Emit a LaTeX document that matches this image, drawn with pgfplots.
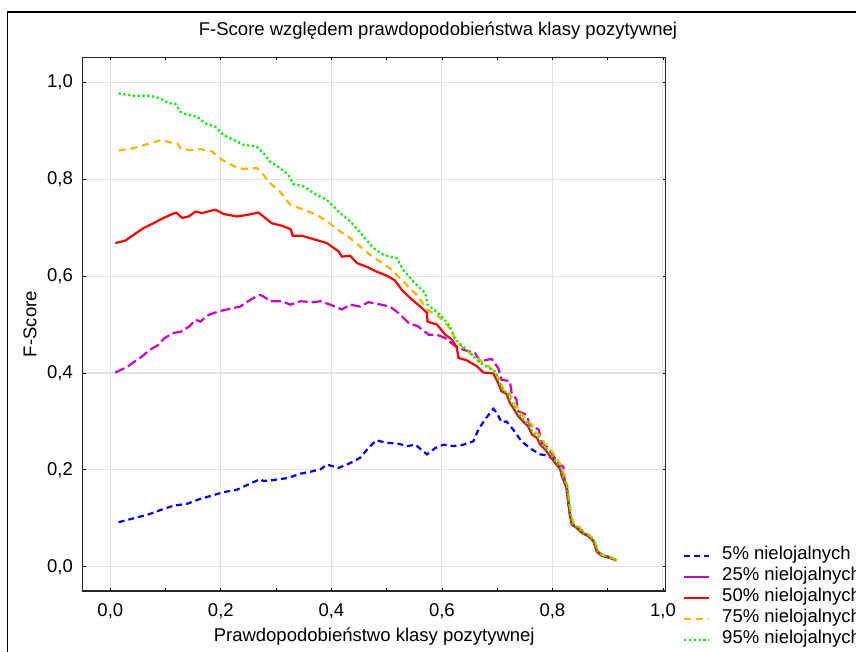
\documentclass[border=0pt]{standalone}
\usepackage{fontspec}
\setmainfont{Liberation Sans}
\usepackage{pgfplots}
\pgfplotsset{compat=1.18}
\definecolor{cBlue}{RGB}{0,0,255}
\definecolor{cMag}{RGB}{204,0,204}
\definecolor{cRed}{RGB}{255,0,0}
\definecolor{cOra}{RGB}{255,180,0}
\definecolor{cGre}{RGB}{0,240,0}
\definecolor{cGrid}{RGB}{226,226,226}
\newcommand{\fs}{\fontsize{18.5}{22}\selectfont}
\begin{document}
\begin{tikzpicture}
\begin{axis}[
  at={(82.7pt,61pt)}, anchor=south west,
  scale only axis, width=583pt, height=533.7pt,
  xmin=-0.05, xmax=1.005, ymin=-0.05, ymax=1.0515,
  xtick={0,0.2,0.4,0.6,0.8,1.0},
  ytick={0,0.2,0.4,0.6,0.8,1.0},
  minor xtick={0.1,0.3,0.5,0.7,0.9},
  tick align=inside, major tick length=3pt, minor tick length=3pt,
  every tick/.style={black, line width=0.8pt},
  grid=major,
  major grid style={cGrid, line width=1.1pt},
  axis line style={black!85, line width=1.2pt},
  /pgf/number format/.cd, use comma, fixed, fixed zerofill, precision=1, assume math mode=true,
  /pgfplots/.cd,
  every tick label/.append style={font=\fs, inner sep=0pt},
  xticklabel shift=12pt,
  yticklabel shift=9.7pt,
  title={F-Score względem prawdopodobieństwa klasy pozytywnej},
  title style={font=\fs, at={(axis description cs:0.6094,1.038)}, anchor=center, inner sep=0pt},
  xlabel={Prawdopodobieństwo klasy pozytywnej},
  xlabel style={font=\fs, at={(axis description cs:0.5,-0.0862)}, anchor=center, inner sep=0pt},
  ylabel={F-Score},
  ylabel style={font=\fs, at={(axis description cs:-0.0904,0.5)}, anchor=center, rotate=0, inner sep=0pt},
  legend cell align=left,
  legend style={font=\fs, draw=none, fill=none, inner sep=0pt, outer sep=0pt,
    at={(axis description cs:1.0297,0.0847)}, anchor=north west,
    row sep=0pt, nodes={inner sep=0pt, text height=14pt, text depth=7pt},
    /tikz/every odd column/.append style={column sep=12pt}},
  legend image code/.code={\draw[#1] (0pt,0pt) -- (25pt,0pt);},
]
\addplot[cBlue, line width=2.2pt, dash pattern=on 6pt off 4pt] coordinates {
(0.015,0.092) (0.042,0.100) (0.069,0.108) (0.093,0.118) (0.114,0.126) (0.139,0.130)
(0.160,0.139) (0.184,0.147) (0.205,0.154) (0.229,0.159) (0.250,0.170) (0.271,0.181)
(0.277,0.177) (0.295,0.179) (0.320,0.183) (0.344,0.192) (0.365,0.197) (0.380,0.201)
(0.392,0.211) (0.413,0.204) (0.434,0.214) (0.452,0.225) (0.467,0.245) (0.481,0.261)
(0.500,0.256) (0.521,0.254) (0.537,0.249) (0.552,0.252) (0.573,0.232) (0.588,0.245)
(0.603,0.252) (0.621,0.249) (0.639,0.252) (0.657,0.259) (0.666,0.283) (0.678,0.304)
(0.693,0.326) (0.699,0.318) (0.708,0.298) (0.717,0.300) (0.729,0.283) (0.744,0.259)
(0.763,0.242) (0.778,0.232) (0.793,0.229) (0.802,0.221) (0.814,0.204) (0.818,0.184)
(0.825,0.166) (0.828,0.139) (0.832,0.104) (0.835,0.090) (0.844,0.082) (0.853,0.072)
(0.865,0.064) (0.874,0.054) (0.880,0.034) (0.889,0.024) (0.904,0.020) (0.916,0.013)
};
\addlegendentry{5\% nielojalnych}
\addplot[cMag, line width=2.2pt, dash pattern=on 10pt off 4pt,
  legend image code/.code={\draw[cMag, line width=2.2pt, solid] (0pt,0pt) -- (25pt,0pt);}] coordinates {
(0.009,0.401) (0.030,0.412) (0.042,0.422) (0.054,0.431) (0.072,0.448) (0.087,0.458)
(0.096,0.470) (0.112,0.482) (0.127,0.485) (0.143,0.496) (0.154,0.510) (0.163,0.506)
(0.178,0.520) (0.196,0.527) (0.211,0.531) (0.235,0.537) (0.256,0.553) (0.271,0.561)
(0.277,0.558) (0.289,0.548) (0.310,0.548) (0.326,0.541) (0.344,0.548) (0.368,0.546)
(0.380,0.548) (0.398,0.541) (0.419,0.531) (0.434,0.541) (0.452,0.537) (0.467,0.546)
(0.482,0.543) (0.506,0.537) (0.521,0.524) (0.540,0.503) (0.557,0.496) (0.576,0.479)
(0.591,0.479) (0.606,0.472) (0.621,0.458) (0.639,0.448) (0.660,0.441) (0.669,0.424)
(0.690,0.429) (0.702,0.410) (0.708,0.386) (0.723,0.383) (0.726,0.360) (0.735,0.345)
(0.738,0.321) (0.753,0.314) (0.759,0.293) (0.775,0.283) (0.781,0.256) (0.793,0.245)
(0.802,0.228) (0.811,0.214) (0.820,0.206) (0.822,0.180) (0.827,0.160) (0.829,0.135)
(0.833,0.100) (0.837,0.088) (0.846,0.080) (0.855,0.071) (0.866,0.063) (0.875,0.052)
(0.881,0.031) (0.890,0.022) (0.905,0.018) (0.916,0.012)
};
\addlegendentry{25\% nielojalnych}
\addplot[cRed, line width=2.2pt] coordinates {
(0.009,0.668) (0.027,0.673) (0.042,0.685) (0.060,0.699) (0.078,0.709) (0.093,0.718)
(0.108,0.726) (0.119,0.731) (0.130,0.720) (0.142,0.723) (0.154,0.733) (0.166,0.730)
(0.190,0.737) (0.205,0.728) (0.229,0.723) (0.247,0.726) (0.268,0.731) (0.277,0.723)
(0.292,0.709) (0.310,0.704) (0.326,0.697) (0.330,0.683) (0.347,0.683) (0.368,0.676)
(0.392,0.668) (0.413,0.651) (0.419,0.640) (0.434,0.642) (0.446,0.627) (0.464,0.619)
(0.482,0.609) (0.500,0.601) (0.515,0.591) (0.527,0.572) (0.546,0.551) (0.561,0.537)
(0.573,0.524) (0.574,0.506) (0.591,0.500) (0.606,0.479) (0.618,0.469) (0.627,0.452)
(0.630,0.431) (0.645,0.426) (0.663,0.414) (0.675,0.401) (0.693,0.399) (0.702,0.379)
(0.708,0.362) (0.717,0.357) (0.723,0.338) (0.729,0.328) (0.738,0.311) (0.747,0.300)
(0.756,0.290) (0.763,0.273) (0.772,0.266) (0.778,0.252) (0.787,0.242) (0.796,0.228)
(0.805,0.214) (0.814,0.201) (0.818,0.184) (0.825,0.166) (0.828,0.139) (0.832,0.104)
(0.835,0.087) (0.844,0.080) (0.853,0.070) (0.865,0.063) (0.874,0.053) (0.880,0.032)
(0.889,0.023) (0.904,0.019) (0.916,0.013)
};
\addlegendentry{50\% nielojalnych}
\addplot[cOra, line width=2.2pt, dash pattern=on 7pt off 5pt] coordinates {
(0.015,0.859) (0.042,0.864) (0.072,0.874) (0.093,0.881) (0.108,0.876) (0.121,0.874)
(0.127,0.864) (0.142,0.860) (0.163,0.862) (0.184,0.857) (0.202,0.840) (0.223,0.827)
(0.241,0.821) (0.265,0.823) (0.277,0.809) (0.289,0.792) (0.307,0.774) (0.326,0.747)
(0.350,0.737) (0.374,0.726) (0.392,0.713) (0.416,0.692) (0.434,0.678) (0.452,0.661)
(0.470,0.644) (0.488,0.630) (0.506,0.616) (0.524,0.596) (0.542,0.575) (0.557,0.558)
(0.573,0.531) (0.594,0.517) (0.612,0.496) (0.627,0.465) (0.642,0.448) (0.663,0.431)
(0.681,0.417) (0.696,0.403) (0.705,0.383) (0.712,0.365) (0.722,0.360) (0.728,0.342)
(0.735,0.331) (0.744,0.315) (0.753,0.304) (0.763,0.293) (0.770,0.277) (0.779,0.270)
(0.785,0.256) (0.794,0.246) (0.803,0.232) (0.811,0.218) (0.818,0.205) (0.821,0.186)
(0.827,0.168) (0.830,0.140) (0.834,0.106) (0.838,0.092) (0.847,0.084) (0.856,0.074)
(0.867,0.065) (0.876,0.056) (0.882,0.034) (0.891,0.024) (0.906,0.020) (0.917,0.013)
};
\addlegendentry{75\% nielojalnych}
\addplot[cGre, line width=2.2pt, dash pattern=on 2.2pt off 2.6pt] coordinates {
(0.015,0.977) (0.042,0.972) (0.072,0.972) (0.090,0.967) (0.105,0.957) (0.118,0.955)
(0.127,0.939) (0.139,0.933) (0.157,0.929) (0.172,0.915) (0.190,0.908) (0.205,0.891)
(0.223,0.881) (0.241,0.871) (0.265,0.867) (0.277,0.854) (0.289,0.836) (0.307,0.823)
(0.322,0.809) (0.331,0.790) (0.350,0.785) (0.368,0.771) (0.392,0.757) (0.413,0.733)
(0.434,0.713) (0.458,0.682) (0.476,0.658) (0.494,0.644) (0.518,0.637) (0.530,0.613)
(0.548,0.589) (0.570,0.565) (0.574,0.541) (0.597,0.520) (0.615,0.496) (0.624,0.469)
(0.645,0.448) (0.669,0.421) (0.696,0.403) (0.704,0.381) (0.710,0.364) (0.719,0.359)
(0.725,0.340) (0.731,0.330) (0.740,0.313) (0.749,0.302) (0.758,0.292) (0.765,0.275)
(0.774,0.268) (0.780,0.254) (0.789,0.244) (0.798,0.230) (0.807,0.216) (0.815,0.203)
(0.819,0.185) (0.826,0.167) (0.829,0.140) (0.833,0.105) (0.836,0.089) (0.845,0.081)
(0.854,0.071) (0.866,0.064) (0.875,0.054) (0.881,0.033) (0.890,0.024) (0.905,0.019)
(0.917,0.012)
};
\addlegendentry{95\% nielojalnych}
\end{axis}
\draw[black, line width=1.6pt] (7.5pt,-5pt) -- (7.5pt,640pt) -- (870pt,640pt);
\pgfresetboundingbox
\path[use as bounding box] (0pt,0pt) rectangle (856pt,652pt);
\end{tikzpicture}
\end{document}
